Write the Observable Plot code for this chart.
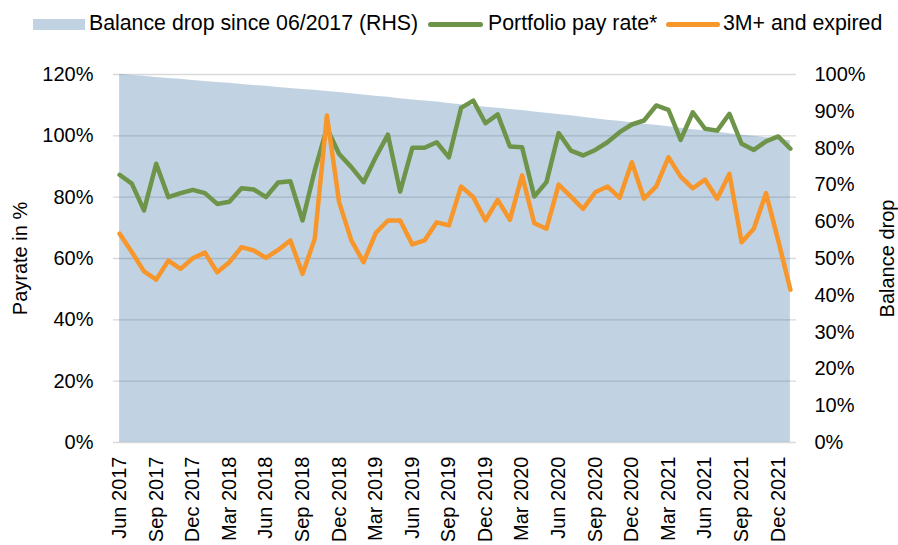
<!DOCTYPE html>
<html><head><meta charset="utf-8">
<script src="https://cdn.jsdelivr.net/npm/d3@7"></script>
<script src="https://cdn.jsdelivr.net/npm/@observablehq/plot@0.6"></script>
<style>
body{margin:0;background:#fff;font-family:Arial,"Liberation Sans",sans-serif;}
#legend{position:relative;width:898px;height:45px;font-size:21.3px;color:#000;}
#legend .sw{position:absolute;}
#legend .tx{position:absolute;top:12px;line-height:22px;white-space:nowrap;}
</style></head><body>
<div id="legend">
 <div class="sw" style="left:33px;top:19px;width:52px;height:11px;background:#C1D3E2"></div>
 <div class="tx" style="left:89px">Balance drop since 06/2017 (RHS)</div>
 <div class="sw" style="left:428px;top:22px;width:55px;height:5px;border-radius:3px;background:#6E9449"></div>
 <div class="tx" style="left:488px">Portfolio pay rate*</div>
 <div class="sw" style="left:666px;top:22px;width:54px;height:5px;border-radius:3px;background:#F7962A"></div>
 <div class="tx" style="left:723px">3M+ and expired</div>
</div>
<div id="chart"></div>
<script>
const months = [
 "Jun 2017","Jul 2017","Aug 2017","Sep 2017","Oct 2017","Nov 2017","Dec 2017",
 "Jan 2018","Feb 2018","Mar 2018","Apr 2018","May 2018","Jun 2018","Jul 2018","Aug 2018","Sep 2018","Oct 2018","Nov 2018","Dec 2018",
 "Jan 2019","Feb 2019","Mar 2019","Apr 2019","May 2019","Jun 2019","Jul 2019","Aug 2019","Sep 2019","Oct 2019","Nov 2019","Dec 2019",
 "Jan 2020","Feb 2020","Mar 2020","Apr 2020","May 2020","Jun 2020","Jul 2020","Aug 2020","Sep 2020","Oct 2020","Nov 2020","Dec 2020",
 "Jan 2021","Feb 2021","Mar 2021","Apr 2021","May 2021","Jun 2021","Jul 2021","Aug 2021","Sep 2021","Oct 2021","Nov 2021","Dec 2021",
 "Jan 2022"
];
// Balance remaining since 06/2017, right-hand scale (%)
const balance = [
 100.0,99.7,99.5,99.2,98.9,98.7,98.4,98.1,97.8,97.6,97.3,97.0,96.8,96.5,96.2,95.9,95.7,95.4,95.1,94.8,
 94.4,94.1,93.8,93.4,93.1,92.8,92.5,92.1,91.8,91.5,91.1,90.8,90.5,90.2,89.8,89.5,89.1,88.8,88.4,88.0,
 87.6,87.3,86.9,86.5,86.2,85.8,85.4,85.0,84.7,84.3,83.9,83.5,83.2,82.8,82.4,82.0
];
// Portfolio pay rate* (%)
const payRate = [
 87.3,84.4,75.7,90.9,80.0,81.3,82.4,81.3,77.8,78.5,82.9,82.5,80.0,84.8,85.2,72.4,88.7,102.5,94.1,89.8,
 84.9,93.0,100.4,81.8,96.1,96.1,97.9,93.0,109.1,111.5,104.1,107.0,96.5,96.3,80.2,84.9,100.9,95.2,93.6,95.4,
 97.9,101.2,103.7,105.0,109.9,108.5,98.7,107.7,102.3,101.7,107.2,97.4,95.4,98.2,99.8,95.8
];
// 3M+ and expired (%)
const expired = [
 68.1,62.1,55.8,53.1,59.3,56.6,60.1,61.9,55.5,58.8,63.7,62.6,60.2,62.8,65.9,55.0,66.4,106.6,78.4,65.9,
 58.8,68.3,72.4,72.4,64.6,65.9,71.8,70.8,83.5,80.0,72.4,79.1,72.6,87.1,71.5,69.7,84.1,80.2,76.2,81.6,
 83.5,79.8,91.4,79.5,83.5,93.0,86.7,82.9,85.7,79.5,87.6,65.3,69.7,81.3,65.9,49.8
];
const xTickLabels = ["Jun 2017","Sep 2017","Dec 2017","Mar 2018","Jun 2018","Sep 2018","Dec 2018",
 "Mar 2019","Jun 2019","Sep 2019","Dec 2019","Mar 2020","Jun 2020","Sep 2020","Dec 2020",
 "Mar 2021","Jun 2021","Sep 2021","Dec 2021"];
const leftTicks = [0,20,40,60,80,100,120];
const rightTicks = [0,10,20,30,40,50,60,70,80,90,100];
const leftMax = 120, rightMax = 100;
const k = leftMax / rightMax;

const data = months.map((m, i) => ({i, month: m, balance: balance[i], pay: payRate[i], exp: expired[i]}));
const xTicks = xTickLabels.map(l => months.indexOf(l));

const chart = Plot.plot({
  width: 898, height: 500,
  marginLeft: 113, marginRight: 102, marginTop: 29, marginBottom: 103,
  style: {fontFamily: "Arial, 'Liberation Sans', sans-serif", fontSize: "20px", color: "#000", background: "#fff"},
  x: {type: "linear", domain: [-0.5, months.length - 0.5]},
  y: {domain: [0, leftMax]},
  marks: [
    Plot.ruleY(leftTicks, {stroke: "#D9D9D9", strokeWidth: 1.4}),
    Plot.areaY(data, {x: "i", y: d => d.balance * k, fill: "#105690", fillOpacity: 0.26}),
    Plot.lineY(data, {x: "i", y: "pay", stroke: "#6E9449", strokeWidth: 4.5, strokeLinejoin: "round", strokeLinecap: "round"}),
    Plot.lineY(data, {x: "i", y: "exp", stroke: "#F7962A", strokeWidth: 4.5, strokeLinejoin: "round", strokeLinecap: "round"}),
    Plot.axisY({anchor: "left", ticks: leftTicks, tickFormat: d => d + "%", tickSize: 0, tickPadding: 20, label: null}),
    Plot.axisY({anchor: "right", ticks: rightTicks.map(v => v * k), tickFormat: d => Math.round(d / k) + "%", tickSize: 0, tickPadding: 18, label: null}),
    Plot.axisX({ticks: xTicks, tickFormat: i => months[i], tickRotate: -90, tickSize: 0, tickPadding: 14, label: null}),
    Plot.text(["Payrate in %"], {frameAnchor: "left", rotate: -90, dx: -93, textAnchor: "middle"}),
    Plot.text(["Balance drop"], {frameAnchor: "right", rotate: -90, dx: 91, textAnchor: "middle"})
  ]
});
document.getElementById("chart").append(chart);
</script>
</body></html>
